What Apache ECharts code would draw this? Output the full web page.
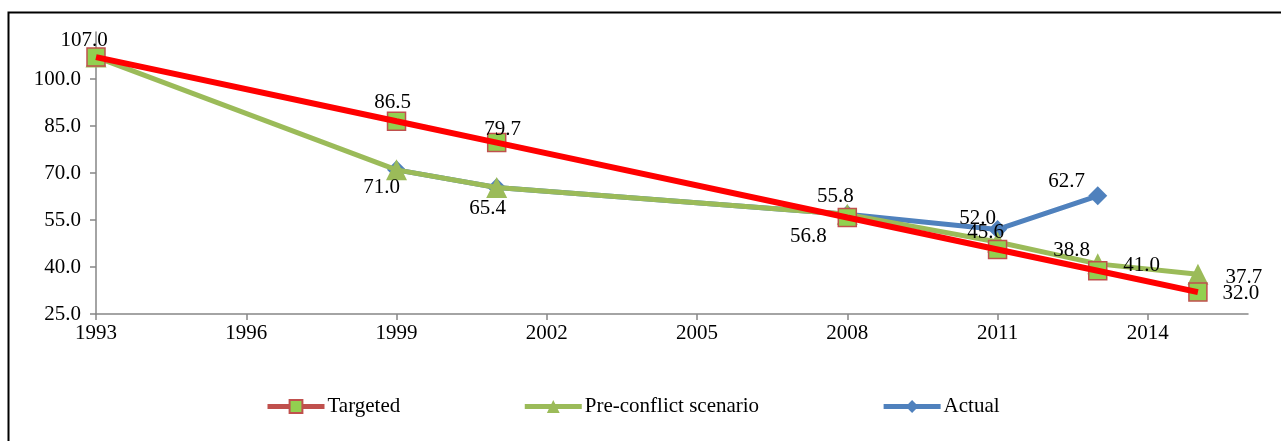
<!DOCTYPE html>
<html>
<head>
<meta charset="utf-8">
<script src="https://cdn.jsdelivr.net/npm/echarts@6/dist/echarts.min.js"></script>
<style>html,body{margin:0;padding:0;background:#fff}#c{width:1281px;height:441px}</style>
</head>
<body>
<div id="c"></div>
<script>
// ---- data ----
var targetedYears = [1993, 1999, 2001, 2008, 2011, 2013, 2015];
var targetedValues = [107.0, 86.5, 79.7, 55.8, 45.6, 38.8, 32.0];
var preYears = [1993, 1999, 2001, 2008, 2011, 2013, 2015];
var preValues = [107.0, 71.0, 65.4, 56.8, 48.0, 41.0, 37.7];
var actualYears = [1999, 2001, 2008, 2011, 2013];
var actualValues = [71.0, 65.4, 56.8, 52.0, 62.7];
var seriesNames = ['Targeted', 'Pre-conflict scenario', 'Actual'];

// ---- label placement (style only) ----
var targetedLabelOffsets = [[-12,-17],[-4,-19],[6,-13],[-12,-21],[-12,-17],[-26,-20],[43,1]];
var preLabelOffsets = [null,[-15,18],[-9,21],[-39,22],null,[44,2],[46,3]];
var actualLabelOffsets = [null,null,null,[-20,-11],[-31,-14]];

var FONT = 'Liberation Serif';
var FS = 21;
function pts(xs, ys, offs) {
  return xs.map(function (x, i) {
    var o = offs ? offs[i] : null;
    var d = { value: [x, ys[i]] };
    if (o) {
      d.label = { show: true, position: 'inside', offset: o };
    } else {
      d.label = { show: false };
    }
    return d;
  });
}
var labelBase = {
  show: true,
  color: '#000',
  fontFamily: FONT,
  fontSize: FS,
  formatter: function (p) { return p.value[1].toFixed(1); }
};

var chart = echarts.init(document.getElementById('c'), null, { renderer: 'canvas' });
chart.setOption({
  animation: false,
  backgroundColor: '#fff',
  graphic: [{
    type: 'rect', silent: true, z: -10,
    shape: { x: 8.5, y: 12.5, width: 1400, height: 600 },
    style: { fill: 'none', stroke: '#000', lineWidth: 2 }
  }],
  grid: { left: 96, top: 32, right: 33, bottom: 127 },
  legend: {
    data: seriesNames,
    left: 265,
    top: 396,
    padding: 0,
    itemWidth: 57,
    itemHeight: 16,
    itemGap: 122,
    lineStyle: { width: 5 },
    textStyle: { fontFamily: FONT, fontSize: FS, color: '#000', padding: [0, 0, 0, -2] }
  },
  xAxis: {
    type: 'value', min: 1993, max: 2016, interval: 3,
    axisLine: { show: true, lineStyle: { color: '#868686', width: 1.5 } },
    axisTick: { show: true, length: 6, lineStyle: { color: '#868686', width: 1.5 } },
    splitLine: { show: false },
    axisLabel: { showMaxLabel: false, margin: 9, color: '#000', fontFamily: FONT, fontSize: FS,
      formatter: function (v) { return String(v); } }
  },
  yAxis: {
    type: 'value', min: 25, max: 115, interval: 15,
    axisLine: { show: true, lineStyle: { color: '#868686', width: 1.5 } },
    axisTick: { show: true, length: 6, lineStyle: { color: '#868686', width: 1.5 } },
    splitLine: { show: false },
    axisLabel: { showMaxLabel: false, margin: 15, color: '#000', fontFamily: FONT, fontSize: FS,
      formatter: function (v) { return v.toFixed(1); } }
  },
  series: [
    {
      name: 'Actual', type: 'line', z: 2,
      data: pts(actualYears, actualValues, actualLabelOffsets),
      symbol: 'diamond', symbolSize: 19,
      itemStyle: { color: '#4F81BD' },
      lineStyle: { color: '#4F81BD', width: 5 },
      label: labelBase
    },
    {
      name: 'Pre-conflict scenario', type: 'line', z: 3,
      data: pts(preYears, preValues, preLabelOffsets),
      symbol: 'triangle', symbolSize: 21,
      itemStyle: { color: '#9BBB59' },
      lineStyle: { color: '#9BBB59', width: 5 },
      label: labelBase
    },
    {
      name: 'Targeted', type: 'line', z: 4,
      data: pts(targetedYears, targetedValues, targetedLabelOffsets),
      symbol: 'rect', symbolSize: 18,
      itemStyle: { color: '#92D050', borderColor: '#C0504D', borderWidth: 1.5 },
      lineStyle: { color: '#C0504D', width: 4 },
      label: labelBase
    },
    {
      name: 'Targeted trend', type: 'line', z: 5, silent: true,
      data: targetedYears.map(function (x, i) { return [x, targetedValues[i]]; }),
      showSymbol: false, symbol: 'none',
      lineStyle: { color: '#FF0000', width: 6 },
      label: { show: false }
    }
  ]
});
</script>
</body>
</html>
